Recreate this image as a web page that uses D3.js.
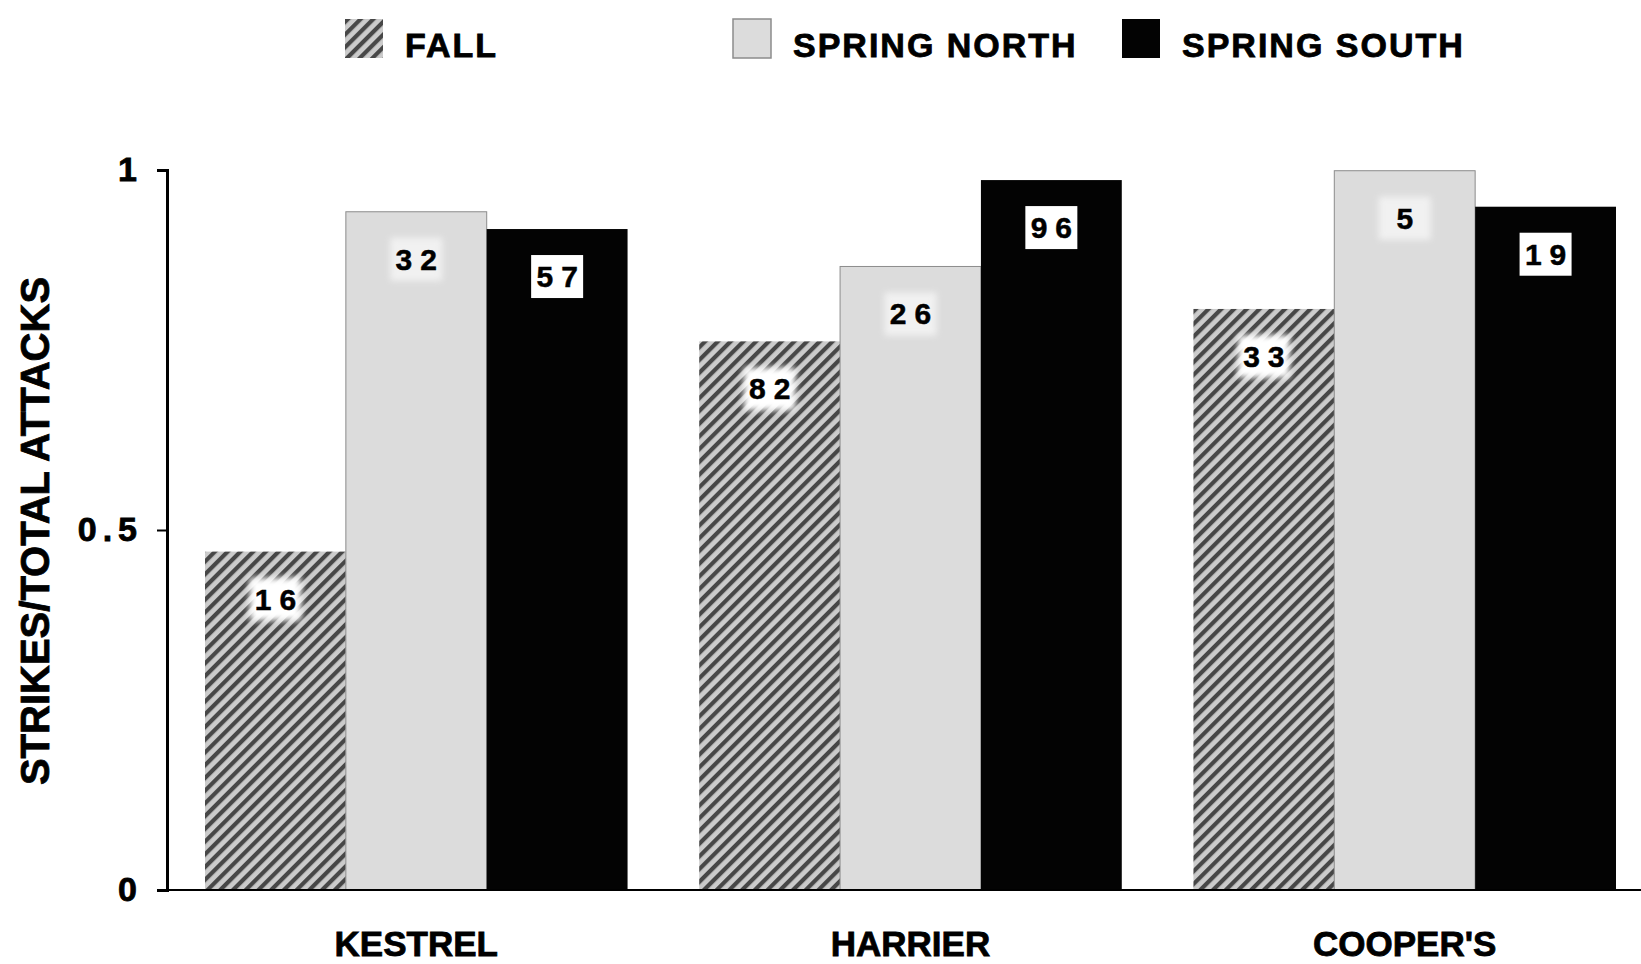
<!DOCTYPE html>
<html>
<head>
<meta charset="utf-8">
<script src="https://cdn.jsdelivr.net/npm/d3@7"></script>
<style>
  body { margin: 0; background: #fff; }
  text { font-family: "Liberation Sans", Arial, sans-serif; font-weight: bold; fill: #000; stroke: #000; stroke-width: 0.8px; }
</style>
</head>
<body>
<div class="chart"></div>
<script>
// data
var categories = ["KESTREL", "HARRIER", "COOPER'S"];
var seriesNames = ["FALL", "SPRING NORTH", "SPRING SOUTH"];
var fallValues = [0.47, 0.762, 0.807];
var springNorthValues = [0.942, 0.866, 0.999];
var springSouthValues = [0.918, 0.986, 0.949];
var fallCounts = [16, 82, 33];
var springNorthCounts = [32, 26, 5];
var springSouthCounts = [57, 96, 19];
var yTicks = [0, 0.5, 1];
var yaxistext = "STRIKES/TOTAL ATTACKS";

var seriesValues = [fallValues, springNorthValues, springSouthValues];
var seriesCounts = [fallCounts, springNorthCounts, springSouthCounts];

// flatten into one row per bar
var bars = [];
categories.forEach(function(c, i) {
  seriesNames.forEach(function(s, j) {
    bars.push({cat: c, series: s, value: seriesValues[j][i], n: seriesCounts[j][i]});
  });
});

// setup
var width = 1641, height = 964;

var svg = d3.select(".chart").append("svg")
    .attr("width", width)
    .attr("height", height);

var defs = svg.append("defs");

var hatch = defs.append("pattern")
    .attr("id", "hatch")
    .attr("patternUnits", "userSpaceOnUse")
    .attr("width", 9)
    .attr("height", 9)
    .attr("patternTransform", "rotate(45)");
hatch.append("rect").attr("width", 9).attr("height", 9).attr("fill", "#cbcbcb");
hatch.append("rect").attr("width", 4.2).attr("height", 9).attr("fill", "#474747");

var blur = defs.append("filter").attr("id", "soft")
    .attr("x", "-30%").attr("y", "-30%").attr("width", "160%").attr("height", "160%");
blur.append("feGaussianBlur").attr("stdDeviation", 3);

var fills = {"FALL": "url(#hatch)", "SPRING NORTH": "#dcdcdc", "SPRING SOUTH": "#030303"};

var x0 = d3.scaleBand()
    .domain(categories)
    .range([205, 1616])
    .paddingInner(0.145);

var x1 = d3.scaleBand()
    .domain(seriesNames)
    .range([0, x0.bandwidth()]);

var y = d3.scaleLinear()
    .domain([0, 1])
    .range([890, 170]);

// bars
svg.selectAll(".bar")
    .data(bars)
  .enter().append("rect")
    .attr("class", "bar")
    .attr("x", function(d) { return x0(d.cat) + x1(d.series); })
    .attr("y", function(d) { return y(d.value); })
    .attr("width", x1.bandwidth())
    .attr("height", function(d) { return y(0) - y(d.value); })
    .attr("fill", function(d) { return fills[d.series]; })
    .attr("stroke", function(d) { return d.series == "SPRING NORTH" ? "#8c8c8c" : "none"; })
    .attr("stroke-width", 1);

// count labels with white boxes
var labels = svg.selectAll(".lab")
    .data(bars)
  .enter().append("g")
    .attr("class", "lab")
    .attr("transform", function(d) {
      return "translate(" + (x0(d.cat) + x1(d.series) + x1.bandwidth() / 2) + "," + (y(d.value) + 47) + ")";
    });

labels.append("rect")
    .attr("x", -26)
    .attr("y", -21)
    .attr("width", 52)
    .attr("height", 43)
    .attr("fill", "#fff")
    .attr("filter", function(d) { return d.series == "SPRING SOUTH" ? null : "url(#soft)"; })
    .attr("opacity", function(d) { return d.series == "SPRING NORTH" ? 0.6 : 1; });

labels.append("text")
    .attr("text-anchor", "middle")
    .attr("dx", 4)
    .attr("y", 11)
    .style("font-size", "30px")
    .style("stroke-width", "0.5px")
    .style("letter-spacing", "8px")
    .text(function(d) { return d.n; });

// axes
var yAxis = d3.axisLeft(y)
    .tickValues(yTicks)
    .tickSize(10)
    .tickPadding(14)
    .tickFormat(function(d) { return d3.format("")(d); });

var gy = svg.append("g")
    .attr("class", "y axis")
    .attr("transform", "translate(167,0)")
    .call(yAxis);

gy.select(".domain").attr("stroke", "#000").attr("stroke-width", 3);
gy.selectAll(".tick line").attr("stroke", "#000").attr("stroke-width", 2);
gy.selectAll(".tick text")
    .attr("fill", "#000")
    .style("font-family", "'Liberation Sans', Arial, sans-serif")
    .style("font-weight", "bold")
    .style("font-size", "34px")
    .style("letter-spacing", "6px");

// baseline
svg.append("line")
    .attr("x1", 158)
    .attr("x2", 1641)
    .attr("y1", y(0))
    .attr("y2", y(0))
    .attr("stroke", "#000")
    .attr("stroke-width", 2);

// category labels
svg.selectAll(".cat")
    .data(categories)
  .enter().append("text")
    .attr("class", "cat")
    .attr("x", function(d) { return x0(d) + x0.bandwidth() / 2; })
    .attr("y", 956)
    .attr("text-anchor", "middle")
    .style("font-size", "35px")
    .text(function(d) { return d; });

// text label for the y axis
svg.append("text")
    .attr("transform", "translate(49,531) rotate(-90)")
    .attr("text-anchor", "middle")
    .style("font-size", "40px")
    .text(yaxistext);

// legend
var legendX = [345, 733, 1122];
var legend = svg.selectAll(".legend")
    .data(seriesNames)
  .enter().append("g")
    .attr("class", "legend")
    .attr("transform", function(d, i) { return "translate(" + legendX[i] + ",19)"; });

legend.append("rect")
    .attr("width", 38)
    .attr("height", 39)
    .attr("fill", function(d) { return fills[d]; })
    .attr("stroke", function(d) { return d == "SPRING NORTH" ? "#8c8c8c" : "none"; })
    .attr("stroke-width", 1.5);

legend.append("text")
    .attr("x", 60)
    .attr("y", 38)
    .style("font-size", "34px")
    .style("letter-spacing", "2px")
    .text(function(d) { return d; });
</script>
</body>
</html>
